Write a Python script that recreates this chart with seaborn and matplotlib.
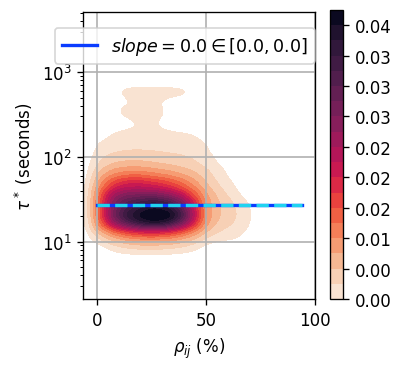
import numpy as np
import pandas as pd
import matplotlib
matplotlib.use("Agg")
import matplotlib.pyplot as plt
import seaborn as sns

# --- dati: griglia di punti pesati per la KDE ---
rho_col = [2, 8, 14, 20, 26, 32, 38, 44, 50, 56, 62, 68]
tau_row = [9, 12, 16, 21, 28, 37, 50, 68, 95, 135, 180, 250, 340, 450, 580]
peso = [
    [0.0, 0.5, 0.8, 1.0, 1.0, 0.9, 0.7, 0.4, 0.0, 0.0, 0.0, 0.0],
    [1.2, 2.5, 3.5, 4.0, 4.0, 3.8, 3.0, 2.0, 0.8, 0.5, 0.4, .15],
    [4.0, 7.0, 8.5, 9.5, 10., 9.5, 8.0, 5.5, 2.0, 1.0, 0.7, 0.3],
    [5.0, 8.5, 10., 11., 12., 11.5, 10., 7.0, 2.5, 1.3, 0.9, 0.4],
    [5.0, 8.0, 9.0, 9.5, 10., 9.5, 8.5, 6.0, 2.5, 1.3, 0.8, 0.3],
    [4.5, 7.0, 7.5, 7.5, 7.5, 7.0, 6.0, 4.2, 2.0, 1.0, 0.4, 0.0],
    [3.0, 5.0, 5.8, 5.8, 5.3, 4.8, 3.8, 2.6, 1.3, 0.6, 0.2, 0.0],
    [1.6, 2.5, 2.9, 2.9, 2.5, 2.2, 1.8, 1.4, 0.9, 0.4, 0.0, 0.0],
    [0.8, 1.2, 1.3, 1.3, 1.2, 1.1, 1.0, 0.8, 0.5, 0.1, 0.0, 0.0],
    [0.4, 0.6, 0.7, 0.7, 0.7, .65, 0.6, 0.5, 0.3, 0.0, 0.0, 0.0],
    [0.0, 0.3, 0.4, 0.4, 0.4, .35, 0.3, .25, 0.0, 0.0, 0.0, 0.0],
    [0.0, 0.0, 0.1, 0.3, 0.3, 0.1, 0.0, 0.0, 0.0, 0.0, 0.0, 0.0],
    [0.0, 0.2, .45, .45, .45, 0.2, 0.0, 0.0, 0.0, 0.0, 0.0, 0.0],
    [0.0, 0.0, 0.1, 0.3, 0.3, .05, 0.0, 0.0, 0.0, 0.0, 0.0, 0.0],
    [0.0, 0.2, 0.4, .45, .45, .45, 0.4, .25, 0.0, 0.0, 0.0, 0.0],
]

fit_rho = [0, 94]
fit_tau = [27.2, 27.2]
slope_lbl = r"$slope = 0.0 \in [0.0, 0.0]$"

xx, yy = np.meshgrid(rho_col, tau_row)
df = pd.DataFrame({"rho": xx.ravel(), "tau": yy.ravel(), "w": np.ravel(peso)})
df = df[df["w"] > 0]

fig, ax = plt.subplots(figsize=(3.4, 3.0833), dpi=120)
sns.kdeplot(data=df, x="rho", y="tau", weights="w", fill=True, levels=20,
            thresh=0.015, cmap="rocket_r", log_scale=(False, True),
            bw_adjust=0.5, ax=ax)

ax.plot(fit_rho, fit_tau, color="#0a3cff", linewidth=2, label=slope_lbl)
ax.plot(fit_rho, fit_tau, color="#1fd3f0", linewidth=2, linestyle="--")

ax.set_xlim(-6.5, 100)
ax.set_ylim(2.1, 5100)
ax.grid(True, color="#b0b0b0", linewidth=1)
ax.set_xlabel(r"$\rho_{ij}$ (%)")
ax.set_ylabel(r"$\tau^*$ (seconds)")
ax.legend(loc="upper left", bbox_to_anchor=(46 / 408, 1 - 20 / 370),
          bbox_transform=fig.transFigure, fontsize=10.5)

ax.set_position([83 / 408, 70 / 370, 232 / 408, 287 / 370])
cax = fig.add_axes([330 / 408, 70 / 370, 13 / 408, 289 / 370])
fig.colorbar(ax.collections[0], cax=cax, format="%.2f")

plt.savefig("out.png", dpi=120)
